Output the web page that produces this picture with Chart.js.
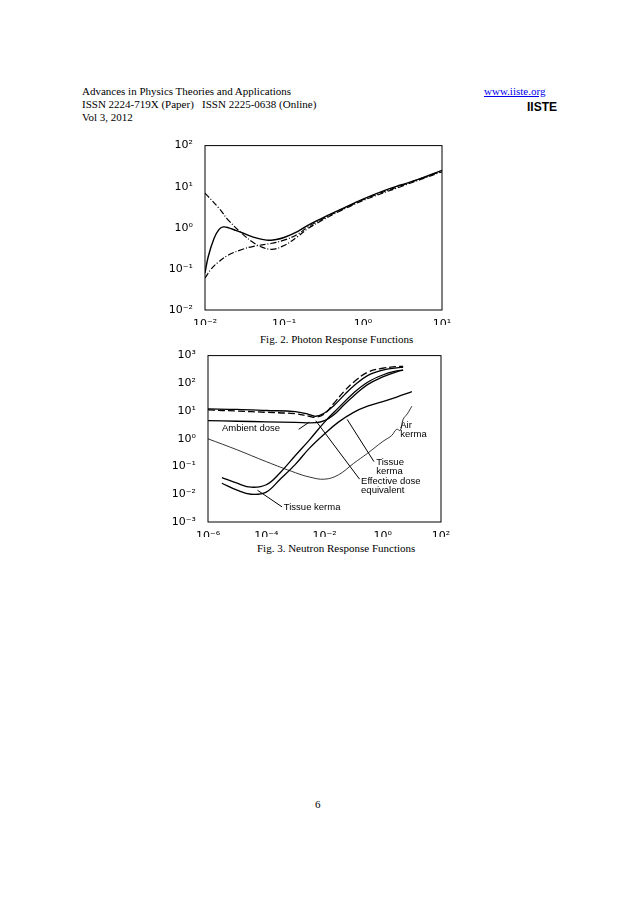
<!DOCTYPE html>
<html><head><meta charset="utf-8">
<script src="https://cdn.jsdelivr.net/npm/chart.js@4"></script>
<style>
body{margin:0;width:638px;height:903px;background:#fff;position:relative;font-family:"Liberation Serif",serif;font-size:11px;color:#000}
.t{position:absolute;white-space:nowrap}
canvas{position:absolute}
</style></head><body>
<div class="t" style="left:82px;top:85px">Advances in Physics Theories and Applications</div>
<div class="t" style="left:82px;top:98px">ISSN 2224-719X (Paper) &nbsp;&nbsp;ISSN 2225-0638 (Online)</div>
<div class="t" style="left:82px;top:111px">Vol 3, 2012</div>
<div class="t" style="left:484px;top:85px;color:#0000ee;text-decoration:underline">www.iiste.org</div>
<div class="t" style="left:527px;top:100px;font-family:'Liberation Sans';font-weight:bold;font-size:12px">IISTE</div>
<div class="t" style="left:260px;top:333px">Fig. 2. Photon Response Functions</div>
<div class="t" style="left:257px;top:542px">Fig. 3. Neutron Response Functions</div>
<div class="t" style="left:315px;top:798px">6</div>
<canvas id="c1" width="290" height="190" style="left:165px;top:135px"></canvas>
<canvas id="c2" width="290" height="192" style="left:165px;top:345px"></canvas>
<script>
// Fig 2 data
const p_solid_x=[0.01,0.011,0.013,0.015,0.017,0.02,0.025,0.03,0.04,0.06,0.08,0.1,0.15,0.2,0.3,0.5,1,2,3,5,10];
const p_solid_y=[0.08,0.2,0.55,0.9,1.05,1.0,0.85,0.75,0.6,0.5,0.52,0.58,0.82,1.15,1.7,2.7,5,8.5,11,15,25];
const p_dd1_x=[0.01,0.015,0.02,0.03,0.04,0.05,0.07,0.1,0.15,0.2,0.3,0.5,1,3,10];
const p_dd1_y=[7,3,1.5,0.7,0.45,0.35,0.3,0.37,0.62,0.95,1.5,2.5,4.6,10,23];
const p_dd2_x=[0.01,0.012,0.015,0.02,0.03,0.04,0.07,0.1,0.15,0.2,0.3,0.5,1,3,10];
const p_dd2_y=[0.06,0.1,0.15,0.22,0.3,0.35,0.42,0.5,0.7,1.05,1.6,2.6,4.8,10.5,24];
// Fig 3 data
const n_top1_x=[1e-6,1e-5,1e-4,1e-3,3e-3,5e-3,1e-2,2e-2,5e-2,0.1,0.3,1,3,5];
const n_top1_y=[12,11.5,10.5,9.5,7.5,6.5,8.5,15,40,80,190,300,360,380];
const n_dash_x=[1e-6,1e-5,1e-4,1e-3,3e-3,5e-3,1e-2,2e-2,5e-2,0.1,0.3,1,3,5];
const n_dash_y=[11,10,9,8,6.5,6,8,18,55,110,250,350,400,410];
const n_amb_x=[1e-6,1e-5,1e-4,1e-3,5e-3,1e-2,2e-2,5e-2,0.1,0.3,1,3,5];
const n_amb_y=[4.5,4.3,4.1,3.9,3.8,4.5,7,18,35,90,170,260,300];
const n_air_x=[1e-6,1e-5,1e-4,1e-3,3e-3,1e-2,3e-2,0.1,0.3,1,2,3,4,5,7,10];
const n_air_y=[1,0.4,0.15,0.06,0.042,0.035,0.05,0.13,0.3,0.8,1.3,2.2,2,5,8,15];
const n_tk1_x=[3e-6,1e-5,3e-5,1e-4,3e-4,1e-3,3e-3,1e-2,3e-2,0.1,0.3,1,3,5];
const n_tk1_y=[0.04,0.025,0.018,0.022,0.06,0.25,0.9,4,13,45,110,200,280,300];
const n_tk2_x=[3e-6,1e-5,3e-5,1e-4,3e-4,1e-3,3e-3,1e-2,3e-2,0.1,0.3,1,3,10];
const n_tk2_y=[0.025,0.014,0.01,0.012,0.035,0.12,0.45,1.5,4,9,15,22,32,50];
const p_xticks=[0.01,0.1,1,10], p_yticks=[0.01,0.1,1,10,100];
const n_xticks=[1e-6,1e-4,1e-2,1,100], n_yticks=[1e-3,1e-2,1e-1,1,10,100,1000];

const sup={'-':'⁻','0':'⁰','1':'¹','2':'²','3':'³','4':'⁴','5':'⁵','6':'⁶'};
const fmt=v=>'10'+String(Math.round(Math.log10(v))).split('').map(c=>sup[c]).join('');
const pts=(xs,ys)=>xs.map((x,i)=>({x,y:ys[i]}));
const ds=(xs,ys,dash,w)=>({data:pts(xs,ys),borderColor:'#000',borderWidth:w||1.2,borderDash:dash||[],pointRadius:0,tension:0.4,fill:false});
const box={id:'box',afterDraw(c){const a=c.chartArea,g=c.ctx;g.save();g.strokeStyle='#000';g.lineWidth=1;g.strokeRect(a.left,a.top,a.right-a.left,a.bottom-a.top);g.restore();}};
function axes(xmin,xmax,ymin,ymax,xt,yt,yw,xh){
 const f={family:'DejaVu Sans',size:11};
 return {
  x:{type:'logarithmic',min:xmin,max:xmax,grid:{display:false},border:{display:false},
     afterBuildTicks:s=>{s.ticks=xt.map(v=>({value:v}));},ticks:{font:f,color:'#000',maxRotation:0,autoSkip:false,padding:0,callback:v=>fmt(v)},afterFit:s=>{s.height=xh;}},
  y:{type:'logarithmic',min:ymin,max:ymax,grid:{display:false},border:{display:false},
     afterBuildTicks:s=>{s.ticks=yt.map(v=>({value:v}));},ticks:{font:f,color:'#000',padding:4,callback:v=>fmt(v)},afterFit:s=>{s.width=yw;}}
 };
}
new Chart(document.getElementById('c1'),{type:'line',
 data:{datasets:[ds(p_solid_x,p_solid_y,[],1.4),ds(p_dd1_x,p_dd1_y,[6,2,1,2]),ds(p_dd2_x,p_dd2_y,[6,2,1,2])]},
 options:{responsive:false,animation:false,layout:{padding:{top:10,right:13,left:0,bottom:0}},
  plugins:{legend:{display:false},tooltip:{enabled:false}},scales:axes(0.01,10,0.01,100,p_xticks,p_yticks,40,15)},plugins:[box]});

const notes=[
 {t:['Ambient dose'],x:3e-6,y:2.4,lx:[3e-3,1.3e-3],ly:[4,2.2]},
 {t:['Air','kerma'],x:4,y:3,lx:[],ly:[]},
 {t:['Tissue','kerma'],x:0.6,y:0.14,lx:[0.06,0.5],ly:[5,0.15]},
 {t:['Effective dose','equivalent'],x:0.18,y:0.028,lx:[5e-3,0.16],ly:[4.5,0.035]},
 {t:['Tissue kerma'],x:4e-4,y:0.0035,lx:[5e-5,3.5e-4],ly:[0.014,0.0035]}
];
const ann={id:'ann',afterDraw(c){const g=c.ctx,X=c.scales.x,Y=c.scales.y;g.save();g.fillStyle='#000';g.strokeStyle='#000';g.lineWidth=1;g.font='9.5px "Liberation Sans"';g.textBaseline='middle';
 notes.forEach(n=>{if(n.lx.length){g.beginPath();g.moveTo(X.getPixelForValue(n.lx[0]),Y.getPixelForValue(n.ly[0]));g.lineTo(X.getPixelForValue(n.lx[1]),Y.getPixelForValue(n.ly[1]));g.stroke();}
  n.t.forEach((s,i)=>g.fillText(s,X.getPixelForValue(n.x),Y.getPixelForValue(n.y)+i*9));});g.restore();}};
new Chart(document.getElementById('c2'),{type:'line',
 data:{datasets:[ds(n_top1_x,n_top1_y,[],1.3),ds(n_dash_x,n_dash_y,[7,3],1.3),ds(n_amb_x,n_amb_y,[],1.3),ds(n_air_x,n_air_y,[],0.8),ds(n_tk1_x,n_tk1_y,[],1.3),ds(n_tk2_x,n_tk2_y,[],1.3)]},
 options:{responsive:false,animation:false,layout:{padding:{top:10,right:14,left:0,bottom:0}},
  plugins:{legend:{display:false},tooltip:{enabled:false}},scales:axes(1e-6,100,1e-3,1000,n_xticks,n_yticks,43,15)},plugins:[box,ann]});
</script>
</body></html>
